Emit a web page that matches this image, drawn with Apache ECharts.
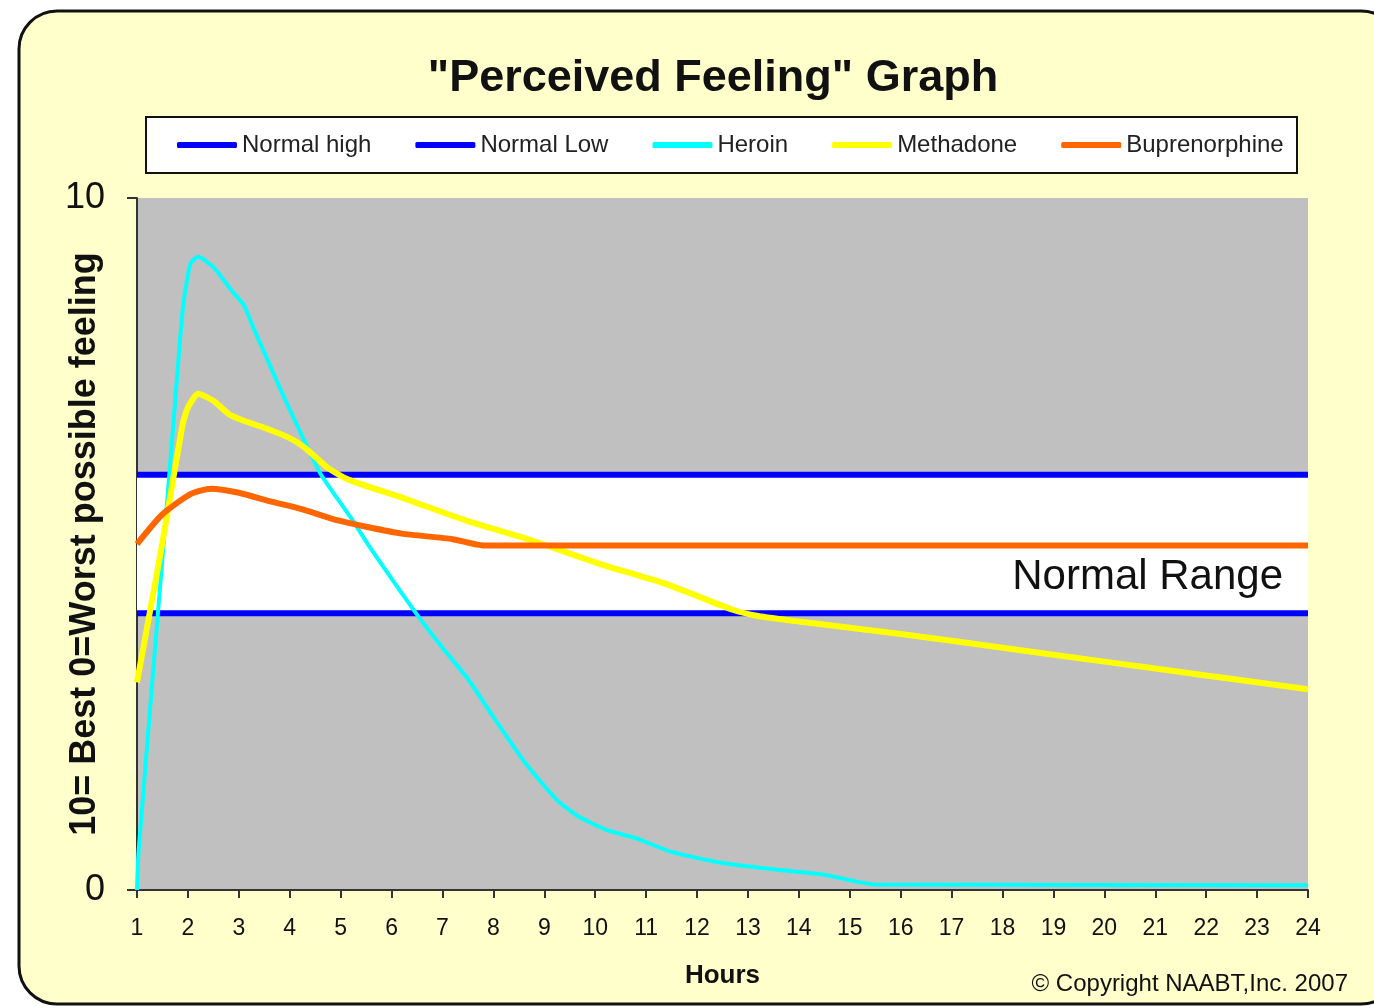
<!DOCTYPE html>
<html>
<head>
<meta charset="utf-8">
<title>Perceived Feeling Graph</title>
<script src="https://cdn.jsdelivr.net/npm/echarts@6/dist/echarts.min.js"></script>
<style>
  html, body { margin: 0; padding: 0; background: #ffffff; }
  #chart { width: 1374px; height: 1008px; }
</style>
</head>
<body>
<div id="chart"></div>
<script>
// series names, as in the legend
const seriesNames = ['Normal high', 'Normal Low', 'Heroin', 'Methadone', 'Buprenorphine'];

// [hour, feeling] pairs
const normalHigh = [[1, 6], [24, 6]];
const normalLow = [[1, 4], [24, 4]];
const heroin = [
  [1, 0], [1.03, 0.55], [1.5, 4.8], [1.7, 6.6], [1.9, 8.4], [2.05, 9.05], [2.2, 9.15],
  [2.5, 9.0], [2.85, 8.67], [3.1, 8.45], [3.3, 8.1], [3.6, 7.6], [3.9, 7.1], [4.25, 6.55],
  [4.6, 6.02], [5.2, 5.38], [5.55, 4.98], [6.0, 4.5], [6.5, 3.98], [7.0, 3.5], [7.5, 3.05],
  [8.0, 2.5], [8.6, 1.86], [9.25, 1.3], [9.7, 1.05], [10.25, 0.86], [10.8, 0.75],
  [11.5, 0.55], [12.5, 0.39], [13.5, 0.3], [14.5, 0.22], [15.5, 0.08], [24, 0.07]
];
const methadone = [
  [1, 3.0], [1.47, 4.9], [1.9, 6.74], [2.0, 6.97], [2.2, 7.17], [2.5, 7.07], [2.8, 6.88],
  [3.1, 6.78], [3.5, 6.68], [4.0, 6.53], [4.3, 6.39], [4.75, 6.1], [5.15, 5.93], [6.2, 5.67],
  [7.5, 5.33], [8.8, 5.04], [10.1, 4.71], [11.4, 4.42], [12.7, 4.05], [13.2, 3.96],
  [14, 3.88], [16, 3.7], [18, 3.5], [20, 3.3], [22, 3.1], [24, 2.9]
];
const buprenorphine = [
  [1, 5.0], [1.5, 5.43], [2.05, 5.72], [2.45, 5.8], [3.0, 5.74], [3.6, 5.62], [4.25, 5.5],
  [4.95, 5.34], [5.5, 5.25], [6.2, 5.15], [7.2, 5.07], [7.8, 4.98], [24, 4.98]
];
const normalBand = [4, 6];

const FONT = "'Liberation Sans', Arial, sans-serif";
const chart = echarts.init(document.getElementById('chart'));

function lineSeries(name, data, color, width) {
  return {
    name: name,
    type: 'line',
    data: data,
    symbol: 'none',
    smooth: 0.2,
    lineStyle: { color: color, width: width },
    itemStyle: { color: color },
    z: 3
  };
}

const option = {
  animation: false,
  textStyle: { fontFamily: FONT },
  title: {
    text: '"Perceived Feeling" Graph',
    left: 708,
    textAlign: 'center',
    top: 51,
    textStyle: { fontSize: 45, fontWeight: 'bold', color: '#111', fontFamily: FONT }
  },
  legend: {
    data: seriesNames,
    left: 172,
    top: 128,
    itemGap: 44,
    itemWidth: 60,
    itemHeight: 6,
    icon: 'roundRect',
    textStyle: { fontSize: 24, color: '#222', fontFamily: FONT, lineHeight: 24 }
  },
  grid: {
    left: 137,
    right: 66,
    top: 198,
    bottom: 118,
    show: true,
    backgroundColor: '#C0C0C0',
    borderWidth: 0
  },
  xAxis: {
    type: 'value',
    min: 1,
    max: 24,
    interval: 1,
    name: 'Hours',
    nameLocation: 'middle',
    nameGap: 73,
    nameTextStyle: { fontSize: 26, fontWeight: 'bold', color: '#111', fontFamily: FONT },
    axisLine: { show: true, lineStyle: { color: '#333', width: 2 } },
    axisTick: { show: true, length: 8, lineStyle: { color: '#333', width: 2 } },
    axisLabel: { fontSize: 23, color: '#111', margin: 27 },
    splitLine: { show: false }
  },
  yAxis: {
    type: 'value',
    min: 0,
    max: 10,
    interval: 10,
    name: '10= Best 0=Worst possible feeling',
    nameLocation: 'middle',
    nameGap: 34,
    nameMoveOverlap: false,
    nameRotate: 90,
    nameTextStyle: { fontSize: 36, fontWeight: 'bold', color: '#111', fontFamily: FONT },
    axisLine: { show: true, lineStyle: { color: '#333', width: 2 } },
    axisTick: { show: true, length: 10, lineStyle: { color: '#333', width: 2 } },
    axisLabel: { fontSize: 36, color: '#111', margin: 32 },
    splitLine: { show: false }
  },
  graphic: {
    elements: [
      {
        type: 'rect',
        z: -100,
        silent: true,
        shape: { x: 19, y: 11, width: 1380, height: 993, r: 38 },
        style: { fill: '#FFFFCC', stroke: '#111', lineWidth: 3 }
      },
      {
        type: 'rect',
        z: -50,
        silent: true,
        shape: { x: 146, y: 117, width: 1151, height: 56 },
        style: { fill: '#ffffff', stroke: '#111', lineWidth: 2 }
      },
      {
        type: 'text',
        z: 100,
        silent: true,
        x: 1283,
        y: 577,
        style: {
          text: 'Normal Range',
          fontSize: 42,
          fontFamily: FONT,
          fill: '#111',
          align: 'right',
          verticalAlign: 'middle'
        }
      },
      {
        type: 'text',
        z: 100,
        silent: true,
        x: 1348,
        y: 984,
        style: {
          text: '\u00A9 Copyright NAABT,Inc. 2007',
          fontSize: 24,
          fontFamily: FONT,
          fill: '#111',
          align: 'right',
          verticalAlign: 'middle'
        }
      }
    ]
  },
  series: [
    {
      name: 'band',
      type: 'line',
      data: [],
      z: 1,
      silent: true,
      markArea: {
        silent: true,
        itemStyle: { color: '#ffffff' },
        data: [[{ yAxis: normalBand[0] }, { yAxis: normalBand[1] }]]
      }
    },
    lineSeries(seriesNames[0], normalHigh, '#0000FF', 6),
    lineSeries(seriesNames[1], normalLow, '#0000FF', 6),
    lineSeries(seriesNames[2], heroin, '#00FFFF', 4),
    lineSeries(seriesNames[3], methadone, '#FFFF00', 6),
    lineSeries(seriesNames[4], buprenorphine, '#FF6600', 6)
  ]
};

chart.setOption(option);
</script>
</body>
</html>
